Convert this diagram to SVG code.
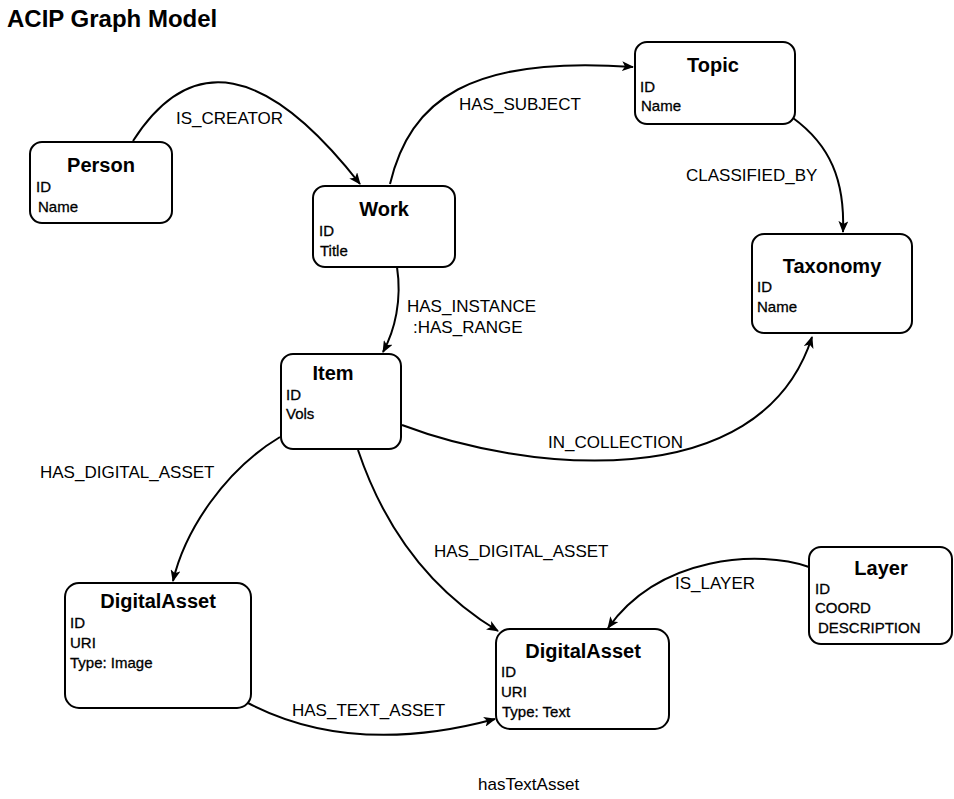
<svg xmlns="http://www.w3.org/2000/svg" width="954" height="799" viewBox="0 0 954 799">
<style>
.box{fill:#fff;stroke:#000;stroke-width:2}
.title{font-family:"Liberation Sans",Arial,sans-serif;font-weight:bold;font-size:20px;text-anchor:middle;fill:#000}
.attr{font-family:"Liberation Sans",Arial,sans-serif;font-size:15px;fill:#000;stroke:#000;stroke-width:0.3}
.lbl{font-family:"Liberation Sans",Arial,sans-serif;font-size:17px;fill:#000}
.edge{fill:none;stroke:#000;stroke-width:2}
</style>
<defs>
<marker id="arr" markerUnits="userSpaceOnUse" markerWidth="12" markerHeight="10" refX="11" refY="5" orient="auto">
<path d="M0,0 L12,5 L0,10 L3,5 Z" fill="#000"/>
</marker>
</defs>
<rect width="954" height="799" fill="#fff"/>
<text x="7" y="27" font-family="Liberation Sans,Arial,sans-serif" font-weight="bold" font-size="24">ACIP Graph Model</text>

<g id="connectors">
<path class="edge" marker-end="url(#arr)" d="M133,141 Q220,5 360,184"/>
<path class="edge" marker-end="url(#arr)" d="M390,184 C410,100 470,55 633,67"/>
<path class="edge" marker-end="url(#arr)" d="M793,118 C830,145 845,180 843,232"/>
<path class="edge" marker-end="url(#arr)" d="M397,267 C402,300 395,330 383,352"/>
<path class="edge" marker-end="url(#arr)" d="M402,425 C520,470 760,500 812,337"/>
<path class="edge" marker-end="url(#arr)" d="M280,437 C225,470 185,530 173,581"/>
<path class="edge" marker-end="url(#arr)" d="M358,450 C385,530 430,590 498,631"/>
<path class="edge" marker-end="url(#arr)" d="M809,567 C760,550 660,555 608,628"/>
<path class="edge" marker-end="url(#arr)" d="M248,703 C300,730 380,750 495,719"/>
<text class="lbl" x="176" y="124">IS_CREATOR</text>
<text class="lbl" x="459" y="110">HAS_SUBJECT</text>
<text class="lbl" x="686" y="181">CLASSIFIED_BY</text>
<text class="lbl" x="407" y="312">HAS_INSTANCE</text>
<text class="lbl" x="413" y="333">:HAS_RANGE</text>
<text class="lbl" x="548" y="448">IN_COLLECTION</text>
<text class="lbl" x="40" y="478">HAS_DIGITAL_ASSET</text>
<text class="lbl" x="434" y="557">HAS_DIGITAL_ASSET</text>
<text class="lbl" x="675" y="589">IS_LAYER</text>
<text class="lbl" x="292" y="716">HAS_TEXT_ASSET</text>
<text class="lbl" x="478" y="790" font-size="19.5">hasTextAsset</text>
</g>

<g id="person">
<rect class="box" x="30" y="142" width="142" height="81" rx="12"/>
<text class="title" x="101" y="172">Person</text>
<text class="attr" x="36" y="192">ID</text>
<text class="attr" x="38" y="212">Name</text>
</g>
<g id="work">
<rect class="box" x="313" y="186" width="142" height="81" rx="12"/>
<text class="title" x="384" y="216">Work</text>
<text class="attr" x="319" y="236">ID</text>
<text class="attr" x="320" y="256">Title</text>
</g>
<g id="topic">
<rect class="box" x="635" y="42" width="160" height="82" rx="12"/>
<text class="title" x="713" y="72">Topic</text>
<text class="attr" x="640" y="92">ID</text>
<text class="attr" x="641" y="111">Name</text>
</g>
<g id="taxonomy">
<rect class="box" x="752" y="234" width="160" height="99" rx="12"/>
<text class="title" x="832" y="273">Taxonomy</text>
<text class="attr" x="757" y="292">ID</text>
<text class="attr" x="757" y="312">Name</text>
</g>
<g id="item">
<rect class="box" x="281" y="354" width="120" height="95" rx="12"/>
<text class="title" x="333" y="380">Item</text>
<text class="attr" x="286" y="400">ID</text>
<text class="attr" x="286" y="419">Vols</text>
</g>
<g id="digitalasset-image">
<rect class="box" x="65" y="583" width="186" height="125" rx="14"/>
<text class="title" x="158" y="608">DigitalAsset</text>
<text class="attr" x="70" y="628">ID</text>
<text class="attr" x="70" y="648">URI</text>
<text class="attr" x="70" y="668">Type: Image</text>
</g>
<g id="digitalasset-text">
<rect class="box" x="496" y="629" width="173" height="100" rx="14"/>
<text class="title" x="583" y="658">DigitalAsset</text>
<text class="attr" x="501" y="677">ID</text>
<text class="attr" x="501" y="697">URI</text>
<text class="attr" x="502" y="717">Type: Text</text>
</g>
<g id="layer">
<rect class="box" x="809" y="547" width="143" height="97" rx="12"/>
<text class="title" x="881" y="575">Layer</text>
<text class="attr" x="815" y="594">ID</text>
<text class="attr" x="815" y="613">COORD</text>
<text class="attr" x="818" y="633">DESCRIPTION</text>
</g>
</svg>
